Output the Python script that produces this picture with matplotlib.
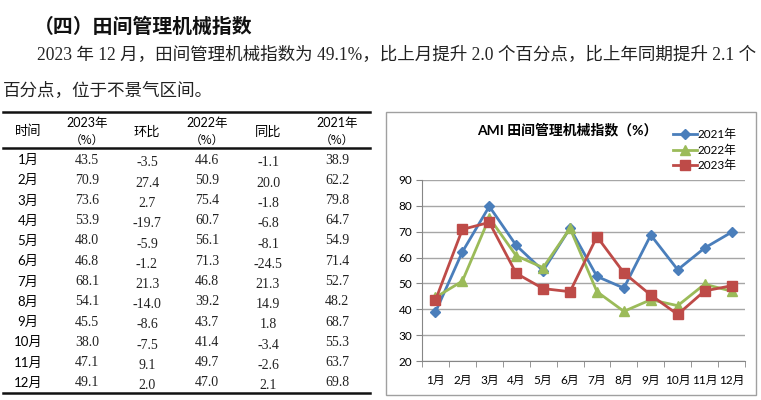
import matplotlib
matplotlib.use("Agg")
import matplotlib.pyplot as plt
from matplotlib.lines import Line2D
from matplotlib.patches import Rectangle
from matplotlib.ticker import FixedLocator, NullFormatter

# ==============================
# Data
# ==============================

months = ["1月", "2月", "3月", "4月", "5月", "6月",
          "7月", "8月", "9月", "10月", "11月", "12月"]
idx_2023 = [43.5, 70.9, 73.6, 53.9, 48.0, 46.8, 68.1, 54.1, 45.5, 38.0, 47.1, 49.1]
mom_2023 = [-3.5, 27.4, 2.7, -19.7, -5.9, -1.2, 21.3, -14.0, -8.6, -7.5, 9.1, 2.0]
idx_2022 = [44.6, 50.9, 75.4, 60.7, 56.1, 71.3, 46.8, 39.2, 43.7, 41.4, 49.7, 47.0]
yoy_2023 = [-1.1, 20.0, -1.8, -6.8, -8.1, -24.5, 21.3, 14.9, 1.8, -3.4, -2.6, 2.1]
idx_2021 = [38.9, 62.2, 79.8, 64.7, 54.9, 71.4, 52.7, 48.2, 68.7, 55.3, 63.7, 69.8]

heading = "（四）田间管理机械指数"
para_1 = "2023 年 12 月，田间管理机械指数为 49.1%，比上月提升 2.0 个百分点，比上年同期提升 2.1 个"
para_2 = "百分点，位于不景气区间。"
chart_title = "AMI 田间管理机械指数（%）"

W, H = 761, 400
CJK = "Noto Sans CJK SC"
SERIF = ["Liberation Serif", CJK]
SANS = ["Lato", CJK]


def fx(x):
    return x / W


def fy(y):
    return 1 - y / H


fig = plt.figure(figsize=(W / 100, H / 100), dpi=100)
fig.patch.set_facecolor("white")

# ==============================
# Heading and paragraph
# ==============================

fig.text(fx(34), fy(26), heading, family=[CJK], fontsize=14.3, fontweight="bold",
         va="center", ha="left", color="#111111")
fig.text(fx(37), fy(55), para_1, family=SERIF, fontsize=12.65, va="center",
         ha="left", color="#222222")
fig.text(fx(3), fy(91), para_2, family=SERIF, fontsize=12.65, va="center",
         ha="left", color="#222222")

# ==============================
# Table
# ==============================

for y in [112, 148, 393]:
    fig.add_artist(Line2D([fx(3), fx(370)], [fy(y), fy(y)], color="#111111",
                          lw=1.8, transform=fig.transFigure))

col_x = [28, 87, 147, 207, 268, 337]
fig.text(fx(col_x[0]), fy(132), "时间", family=[CJK], fontsize=9.5, ha="center", va="center")
fig.text(fx(col_x[2]), fy(132), "环比", family=[CJK], fontsize=9.5, ha="center", va="center")
fig.text(fx(col_x[4]), fy(132), "同比", family=[CJK], fontsize=9.5, ha="center", va="center")
for cx, yr in [(col_x[1], "2023年"), (col_x[3], "2022年"), (col_x[5], "2021年")]:
    fig.text(fx(cx), fy(123), yr, family=SANS, fontsize=9, ha="center", va="center")
    fig.text(fx(cx), fy(140), "（%）", family=[CJK], fontsize=8.5, ha="center", va="center")

row_y0, row_dy = 160, 20.25
for i, m in enumerate(months):
    y = row_y0 + i * row_dy
    fig.text(fx(col_x[0]), fy(y), m, family=SANS, fontsize=9.5, ha="center", va="center")
    cols = [idx_2023[i], mom_2023[i], idx_2022[i], yoy_2023[i], idx_2021[i]]
    for j, v in enumerate(cols):
        off = 3 if j in (1, 3) else 0
        fig.text(fx(col_x[j + 1]), fy(y + off), f"{v:.1f}", family=SERIF,
                 fontsize=10, ha="center", va="center", color="#222222")

# ==============================
# Chart
# ==============================

fig.add_artist(Rectangle((fx(386), fy(395)), fx(756) - fx(386), fy(112) - fy(395),
                         fill=False, edgecolor="#A0A0A0", lw=1,
                         transform=fig.transFigure))

ax = fig.add_axes([fx(422), fy(361), fx(745) - fx(422), fy(180) - fy(361)])
x = list(range(len(months)))
ax.plot(x, idx_2021, color="#4A7EBB", lw=2, marker="D", ms=5.5, label="2021年", zorder=3)
ax.plot(x, idx_2022, color="#9BBB59", lw=2, marker="^", ms=7, label="2022年", zorder=4)
ax.plot(x, idx_2023, color="#BE4B48", lw=2, marker="s", ms=6.5, label="2023年", zorder=5)

ax.set_xlim(-0.5, 11.5)
ax.set_ylim(20, 90)
ax.set_yticks(range(20, 91, 10))
ax.yaxis.grid(True, color="#A6A6A6", lw=1)
ax.set_axisbelow(True)
ax.set_xticks(x)
ax.set_xticklabels(months)
ax.xaxis.set_minor_locator(FixedLocator([i - 0.5 for i in range(13)]))
ax.xaxis.set_minor_formatter(NullFormatter())
ax.tick_params(axis="x", which="major", length=0, pad=10, labelsize=8.5)
ax.tick_params(axis="x", which="minor", length=4, color="#868686", direction="out")
ax.tick_params(axis="y", length=4, color="#868686", labelsize=8.5, pad=3)
for lab in ax.get_xticklabels() + ax.get_yticklabels():
    lab.set_family(SANS)
for side in ["top", "right"]:
    ax.spines[side].set_visible(False)
for side in ["left", "bottom"]:
    ax.spines[side].set_color("#868686")

fig.text(fx(567), fy(130), chart_title, family=SANS, fontsize=10, fontweight="bold",
         ha="center", va="center")

fig.legend(loc="upper left", bbox_to_anchor=(fx(673), fy(129)), frameon=False,
           prop={"family": SANS, "size": 8.5}, handlelength=2.0, handletextpad=0.1,
           labelspacing=0.35, borderpad=0, borderaxespad=0)

fig.savefig("out.png", dpi=100)
